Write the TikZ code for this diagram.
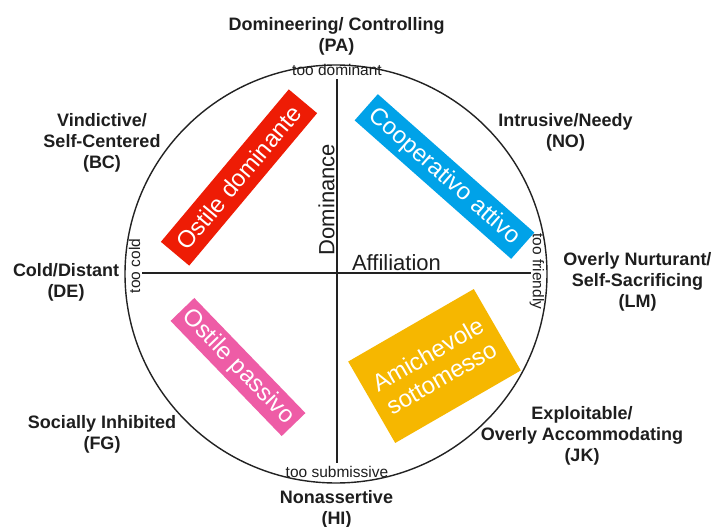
\documentclass[tikz,border=0pt]{standalone}
\usepackage{fontspec}
\setmainfont{Liberation Sans}
\definecolor{labelcol}{HTML}{1E1E1E}
\definecolor{linecol}{HTML}{222222}
\definecolor{redc}{HTML}{EE1C05}
\definecolor{bluec}{HTML}{00A2E8}
\definecolor{pinkc}{HTML}{EE5CA6}
\definecolor{yellowc}{HTML}{F6B700}
\begin{document}
\begin{tikzpicture}[x=1pt,y=-1pt,
  outer/.style={font=\fontsize{18}{21}\selectfont\bfseries, text=labelcol, align=center, inner sep=0pt, anchor=base},
  small/.style={font=\fontsize{15.5}{18}\selectfont, text=labelcol, inner sep=0pt},
  axislbl/.style={font=\fontsize{22}{26}\selectfont, text=labelcol, inner sep=0pt},
  band/.style={text=white, inner sep=0pt, font=\fontsize{24}{27}\selectfont, align=center},
  rule/.style={draw=linecol, line width=1.4pt}]
\useasboundingbox (0,0) rectangle (713,527);
\fill[white] (0,0) rectangle (713,527);

% circle
\draw[rule] (336,274) ellipse [x radius=211pt, y radius=209pt];

% axes
\coordinate (vtop) at (337,79);
\coordinate (vbot) at (337,463);
\coordinate (hleft) at (142,273);
\coordinate (hright) at (531,273);
\draw[rule] (vtop) -- (vbot);
\draw[rule] (hleft) -- (hright);

% small labels
\node[small, anchor=base] (tdom) at (337,76) {too dominant};
\node[small, anchor=base] (tsub) at (337,477) {too submissive};
\node[small, rotate=90] (tcold) at (134.5,266) {too cold};
\node[small, rotate=-90] (tfr) at (537,271.5) {too friendly};

% axis labels
\node[axislbl, rotate=90] (dom) at (326.5,199.5) {Dominance};
\node[axislbl, anchor=base] (aff) at (396.5,270) {Affiliation};

% coloured bands
\node[band, fill=redc, rotate=50, minimum width=199pt, minimum height=37pt] (red) at (239,177.5) {Ostile dominante};
\node[band, fill=bluec, rotate=-41.5, minimum width=209pt, minimum height=35pt] (blue) at (444.5,176.5) {Cooperativo attivo};
\node[band, fill=pinkc, rotate=-46, minimum width=160pt, minimum height=33pt] (pink) at (238,367) {Ostile passivo};
\node[band, fill=yellowc, rotate=30, minimum width=145pt, minimum height=94pt] (yellow) at (434.5,366) {Amichevole\\sottomesso};

% octant labels (anchor = baseline of the last line)
\node[outer] (PA) at (336.5,52) {Domineering/ Controlling\\(PA)};
\node[outer] (BC) at (102,168) {Vindictive/\\Self-Centered\\(BC)};
\node[outer] (NO) at (565.5,147) {Intrusive/Needy\\(NO)};
\node[outer] (DE) at (66,297) {Cold/Distant\\(DE)};
\node[outer] (LM) at (637.5,307) {Overly Nurturant/\\Self-Sacrificing\\(LM)};
\node[outer] (FG) at (102,449) {Socially Inhibited\\(FG)};
\node[outer] (JK) at (582,461) {Exploitable/\\Overly Accommodating\\(JK)};
\node[outer] (HI) at (336.5,524) {Nonassertive\\(HI)};
\end{tikzpicture}
\end{document}
